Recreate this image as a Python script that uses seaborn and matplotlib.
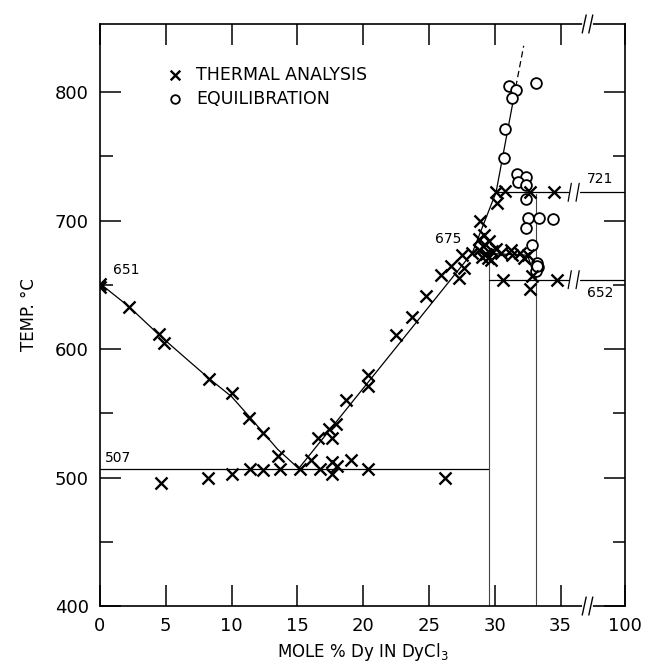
import numpy as np
import pandas as pd
import matplotlib
matplotlib.use("Agg")
import matplotlib.pyplot as plt
import seaborn as sns

# ── Data (mole % Dy, temperature °C) ──────────────────────────────────────────
thermal_x = [0.0, 0.0, 2.2, 4.5, 4.9, 8.3, 10.0, 11.3, 12.4, 13.5,
             4.6, 8.2, 10.0, 11.4, 12.4, 13.7, 15.2, 16.0, 16.7, 16.6,
             17.4, 17.6, 17.9, 17.6, 18.0, 17.6, 19.1, 18.7, 20.4, 20.4,
             20.4, 26.2, 22.5, 23.7, 24.8, 25.9, 26.7, 27.3, 27.7, 27.5,
             28.8, 29.2, 28.9, 30.2, 30.1, 30.8, 32.7, 34.5,
             28.3, 28.8, 29.0, 29.3, 29.5, 29.8, 30.1, 29.7, 30.5, 31.2,
             31.3, 31.9, 32.2, 32.5, 29.1, 29.6,
             30.6, 32.7, 32.8, 34.7]
thermal_t = [651, 648, 633, 612, 605, 577, 566, 546, 535, 517,
             496, 500, 503, 507, 506, 507, 507, 514, 507, 531,
             538, 531, 542, 512, 509, 503, 514, 560, 571, 580,
             507, 500, 611, 625, 641, 658, 665, 655, 663, 673,
             686, 689, 700, 714, 722, 723, 722, 722,
             675, 677, 672, 674, 671, 676, 678, 669, 675, 677,
             673, 675, 671, 673, 680, 684,
             654, 647, 657, 654]

equil_x = [31.1, 31.6, 31.3, 33.1, 30.8, 30.7, 31.7, 32.4, 31.8, 32.4,
           32.4, 32.5, 33.4, 34.4, 32.4, 32.8, 33.2, 33.3, 33.1, 33.2]
equil_t = [805, 802, 795, 807, 771, 749, 736, 734, 730, 728,
           717, 702, 702, 701, 694, 681, 667, 664, 661, 665]

# phase boundaries
liq_left_x = [0.0, 2.2, 4.6, 6.5, 8.3, 10.0, 11.3, 12.4, 13.5, 15.1]
liq_left_t = [651, 633, 610, 593, 577, 563, 548, 535, 522, 507]
liq_right_x = [15.1, 28.3, 30.1, 31.6]
liq_right_t = [507, 675, 722, 804]
liq_dash_x = [31.6, 32.2]
liq_dash_t = [804, 836]
eut_x, eut_t = [0.0, 29.6], [507, 507]
peri_x, peri_t = [28.3, 32.5, 33.1], [675, 673, 654]
vert1_x, vert1_t = [29.6, 29.6], [400, 675]
vert2_x, vert2_t = [33.1, 33.1], [400, 721]
h721_start, h652_start = 30.1, 29.6
X_RIGHT = 39.9          # position of the "100" tick
LINE_BREAK = (35.7, 36.3)
AXIS_BREAK = (36.8, 37.3)

x_ticks = [0, 5, 10, 15, 20, 25, 30, 35, X_RIGHT]
x_labels = ["0", "5", "10", "15", "20", "25", "30", "35", "100"]

thermal = pd.DataFrame({"x": thermal_x, "t": thermal_t})
equil = pd.DataFrame({"x": equil_x, "t": equil_t})

# ── Figure ────────────────────────────────────────────────────────────────────
sns.set_theme(style="ticks")
plt.rcParams["font.family"] = ["DejaVu Sans"]
plt.rcParams["text.color"] = "black"
plt.rcParams["axes.labelcolor"] = "black"
plt.rcParams["xtick.color"] = "black"
plt.rcParams["ytick.color"] = "black"
fig = plt.figure(figsize=(6.45, 6.64), dpi=100)
ax = fig.add_axes([0.155, 0.0873, 0.814, 0.8766])

lk = dict(color="black", lw=0.9, zorder=2)
ax.plot(liq_left_x, liq_left_t, **lk)
ax.plot(liq_right_x, liq_right_t, **lk)
ax.plot(liq_dash_x, liq_dash_t, ls=(0, (5, 3)), **lk)
ax.plot(eut_x, eut_t, **lk)
ax.plot(peri_x, peri_t, **lk)
ax.plot(vert1_x, vert1_t, color="#444444", lw=0.8, zorder=2)
ax.plot(vert2_x, vert2_t, color="#444444", lw=0.8, zorder=2)
for x0, t in [(h721_start, 722), (h652_start, 654)]:
    ax.plot([x0, LINE_BREAK[0] - 0.15], [t, t], **lk)
    ax.plot([LINE_BREAK[1] + 0.15, X_RIGHT], [t, t], **lk)
    for xb in LINE_BREAK:
        ax.plot([xb - 0.12, xb + 0.12], [t - 7, t + 7], **lk)

sns.scatterplot(data=thermal, x="x", y="t", marker="x", s=75, color="black",
                linewidth=1.7, ax=ax, zorder=4, label="THERMAL ANALYSIS")
sns.scatterplot(data=equil, x="x", y="t", marker="o", s=60, facecolor="white",
                edgecolor="black", linewidth=1.3, ax=ax, zorder=3,
                label="EQUILIBRATION")

# annotations
ax.text(1.0, 656, "651", fontsize=10, ha="left", va="bottom")
ax.text(0.4, 510, "507", fontsize=10, ha="left", va="bottom")
ax.text(26.5, 686, "675", fontsize=10, ha="center", va="center")
ax.text(37.0, 727, "721", fontsize=10, ha="left", va="bottom")
ax.text(37.0, 649, "652", fontsize=10, ha="left", va="top")

# axes
ax.set_xlim(0, X_RIGHT)
ax.set_ylim(400, 853)
ax.set_xticks(x_ticks)
ax.set_xticklabels(x_labels)
ax.set_yticks([400, 500, 600, 700, 800])
ax.set_yticks([450, 550, 650, 750], minor=True)
ax.tick_params(axis="both", which="major", direction="in", length=15,
               width=1.1, labelsize=13, top=True, right=True, pad=8)
ax.tick_params(axis="y", which="minor", direction="in", length=9,
               width=1.1, left=True, right=True)
for sp in ax.spines.values():
    sp.set_linewidth(1.2)
    sp.set_color("black")
ax.set_xlabel("MOLE % Dy IN DyCl$_3$", fontsize=12, labelpad=4)
ax.set_ylabel("TEMP. °C", fontsize=12, labelpad=12)

# axis breaks on bottom and top spines
for yv in (400, 853):
    ax.plot(list(AXIS_BREAK), [yv, yv], color="white", lw=3, clip_on=False, zorder=6)
    for xb in AXIS_BREAK:
        ax.plot([xb - 0.15, xb + 0.15], [yv - 7, yv + 7], color="black",
                lw=1.0, clip_on=False, zorder=7)

leg = ax.legend(loc="upper left", bbox_to_anchor=(0.08, 0.955), frameon=False,
                fontsize=12.5, handletextpad=0.2, labelspacing=0.35,
                markerscale=0.8)

fig.savefig("out.png", dpi=100)
